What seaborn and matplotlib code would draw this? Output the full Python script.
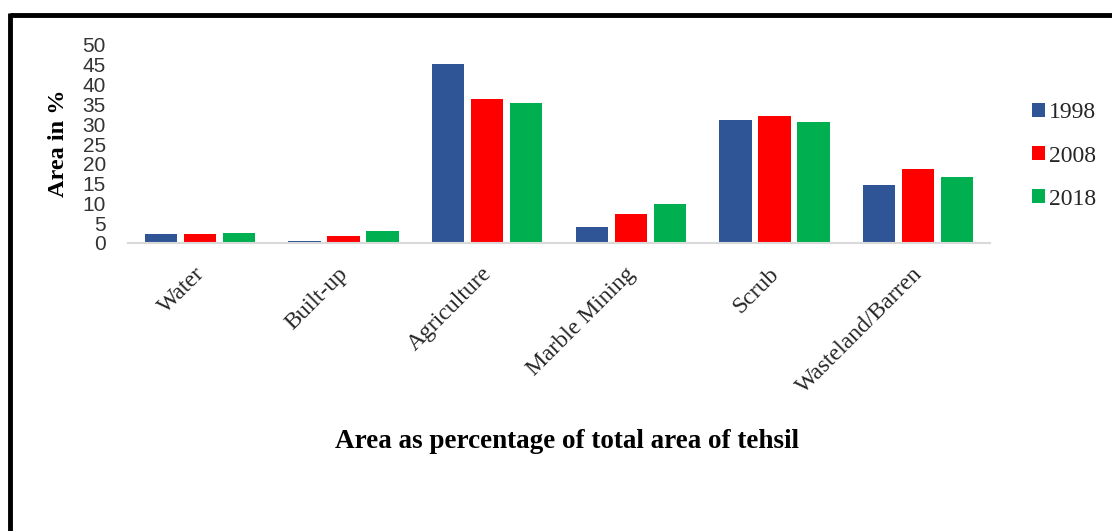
import matplotlib
matplotlib.use("Agg")
import matplotlib.pyplot as plt
from matplotlib.lines import Line2D
from matplotlib.patches import Patch
import matplotlib.transforms as mtransforms
import seaborn as sns
import pandas as pd

categories = ["Water", "Built-up", "Agriculture", "Marble Mining", "Scrub", "Wasteland/Barren"]
years = ["1998", "2008", "2018"]
vals_1998 = [2.2, 0.6, 45.1, 4.1, 31.1, 14.6]
vals_2008 = [2.2, 1.7, 36.3, 7.3, 32.1, 18.6]
vals_2018 = [2.6, 3.1, 35.3, 9.8, 30.5, 16.6]
yticks = [0, 5, 10, 15, 20, 25, 30, 35, 40, 45, 50]
colors = ["#2F5597", "#FF0000", "#00B050"]

rows = []
for yr, vals in zip(years, [vals_1998, vals_2008, vals_2018]):
    for c, v in zip(categories, vals):
        rows.append({"Category": c, "Year": yr, "Value": v})
df = pd.DataFrame(rows)

sns.set_style("white")
plt.rcParams["font.family"] = ["Liberation Serif", "DejaVu Serif"]

fig = plt.figure(figsize=(11.12, 5.31), dpi=100)
ax = fig.add_axes([128/1112, 1-243/531, (990-128)/1112, (243-45)/531])

sns.barplot(data=df, x="Category", y="Value", hue="Year", order=categories,
            hue_order=years, palette=colors, width=0.815, gap=0.17,
            linewidth=0, saturation=1, ax=ax, legend=False, errorbar=None)

ax.set_ylim(0, 50)
ax.set_xlim(-0.5, 5.5)
ax.set_yticks(yticks)
ax.set_yticklabels([str(t) for t in yticks], fontsize=15, family="Liberation Sans",
                   color="#333333")
ax.tick_params(axis="y", length=0, pad=16)
ax.tick_params(axis="x", length=0, pad=8)
ax.set_xticks(range(len(categories)))
ax.set_xticklabels(categories, rotation=45, ha="right", rotation_mode="anchor",
                   fontsize=17, color="#262626")
offset = mtransforms.ScaledTranslation(-6/100, -9/100, fig.dpi_scale_trans)
for lbl in ax.get_xticklabels():
    lbl.set_transform(lbl.get_transform() + offset)
for s in ["top", "right", "left"]:
    ax.spines[s].set_visible(False)
ax.spines["bottom"].set_color("#D9D9D9")
ax.spines["bottom"].set_linewidth(1.5)
ax.set_xlabel("")
ax.set_ylabel("")

fig.text(58/1112, 1-143/531, "Area in %", rotation=90, ha="center", va="center",
         fontsize=17.5, fontweight="bold", color="black")
fig.text(567/1112, 1-441/531, "Area as percentage of total area of tehsil",
         ha="center", va="center", fontsize=19.5, fontweight="bold", color="black")

handles = [Patch(facecolor=c, edgecolor="none") for c in colors]
fig.legend(handles, years, loc="center left", bbox_to_anchor=(1032/1112, 1-156/531),
           frameon=False, fontsize=17, handlelength=0.55, handleheight=0.55,
           handletextpad=0.15, labelspacing=0.94, borderaxespad=0, borderpad=0)

# outer frame (cropped screenshot border)
fig.add_artist(Line2D([10/1112, 1.0], [1-15/531, 1-15/531], color="black", lw=3.5,
                      transform=fig.transFigure, solid_capstyle="butt"))
fig.add_artist(Line2D([10/1112, 10/1112], [0.0, 1-15/531+0.0033], color="black", lw=3.5,
                      transform=fig.transFigure, solid_capstyle="butt"))

fig.savefig("out.png", dpi=100)
